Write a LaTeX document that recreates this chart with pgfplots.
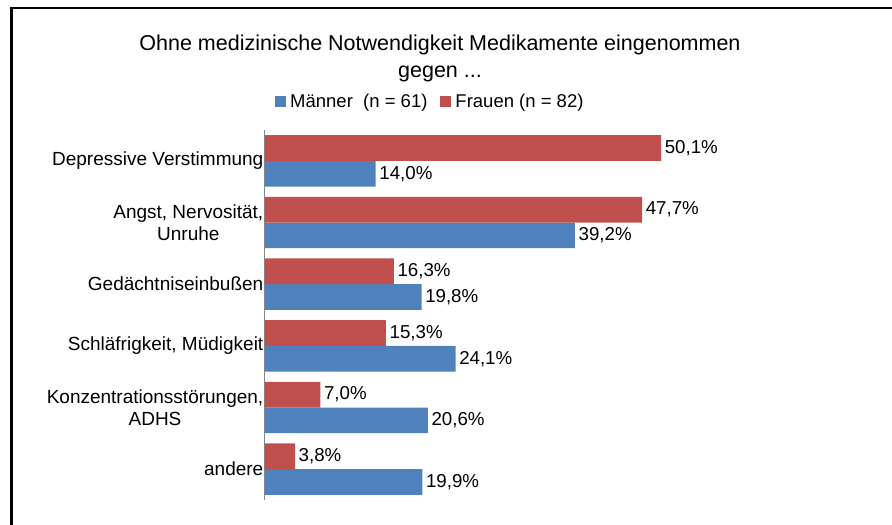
\documentclass[border=0pt]{standalone}
\usepackage{pgfplots}
\pgfplotsset{compat=1.18}
\usepackage{fontspec}
\setmainfont{Liberation Sans}
\definecolor{maenner}{HTML}{4F81BD}
\definecolor{frauen}{HTML}{C0504D}
\definecolor{axgray}{HTML}{868686}

\begin{document}
\begin{tikzpicture}
% picture area, 892 x 525, origin top left
\path[use as bounding box] (0pt,0pt) rectangle (892pt,-525pt);
\draw[line width=2.5pt] (11.3pt,-525pt) -- (11.3pt,-7.8pt) -- (892pt,-7.8pt);

\begin{axis}[
    at={(265pt,-500pt)}, anchor=south west,
    scale only axis,
    width=593pt, height=370pt,
    xbar,
    bar width=25.7pt,
    xmin=0, xmax=75,
    ymin=-0.5, ymax=5.5,
    enlargelimits=false,
    axis x line=none,
    axis y line=left,
    axis line style={-, draw=axgray, line width=1pt},
    xtick=\empty,
    ytick={0,1,2,3,4,5},
    yticklabels={andere, {Konzentrationsstörungen,\\ADHS}, {Schläfrigkeit, Müdigkeit}, Gedächtniseinbußen, {Angst, Nervosität,\\Unruhe}, Depressive Verstimmung},
    major tick length=0pt,
    yticklabel style={font=\fontsize{19}{22.5}\selectfont, align=center, inner sep=1.5pt},
    /pgf/number format/assume math mode=true,
    nodes near coords={\pgfmathprintnumber[fixed, fixed zerofill, precision=1, use comma]{\pgfplotspointmeta}\%},
    every node near coord/.append style={font=\fontsize{18.7}{22}\selectfont, anchor=west, inner sep=3.5pt, text=black},
    legend style={at={(0.278,1.078)}, anchor=center, draw=none, fill=none,
        legend columns=2, font=\fontsize{18.5}{22}\selectfont,
        nodes={inner sep=1pt},
        /tikz/every odd column/.append style={column sep=3pt},
        /tikz/every even column/.append style={column sep=12pt},
        inner sep=0pt},
    legend image code/.code={\fill[#1] (0pt,-5.5pt) rectangle (11pt,5.5pt);},
    clip=false,
]
% Männer (n = 61)
\addplot[fill=maenner, draw=none, bar shift=-12.85pt] coordinates {
    (14.0,5) (39.2,4) (19.8,3) (24.1,2) (20.6,1) (19.9,0)
};
\addlegendentry{Männer~~(n = 61)}
% Frauen (n = 82)
\addplot[fill=frauen, draw=none, bar shift=12.85pt] coordinates {
    (50.1,5) (47.7,4) (16.3,3) (15.3,2) (7.0,1) (3.8,0)
};
\addlegendentry{Frauen (n = 82)}
\end{axis}

\node[align=center, font=\fontsize{21.5}{27}\selectfont] at (440pt,-58pt)
    {Ohne medizinische Notwendigkeit Medikamente eingenommen\\gegen ...};
\end{tikzpicture}
\end{document}
